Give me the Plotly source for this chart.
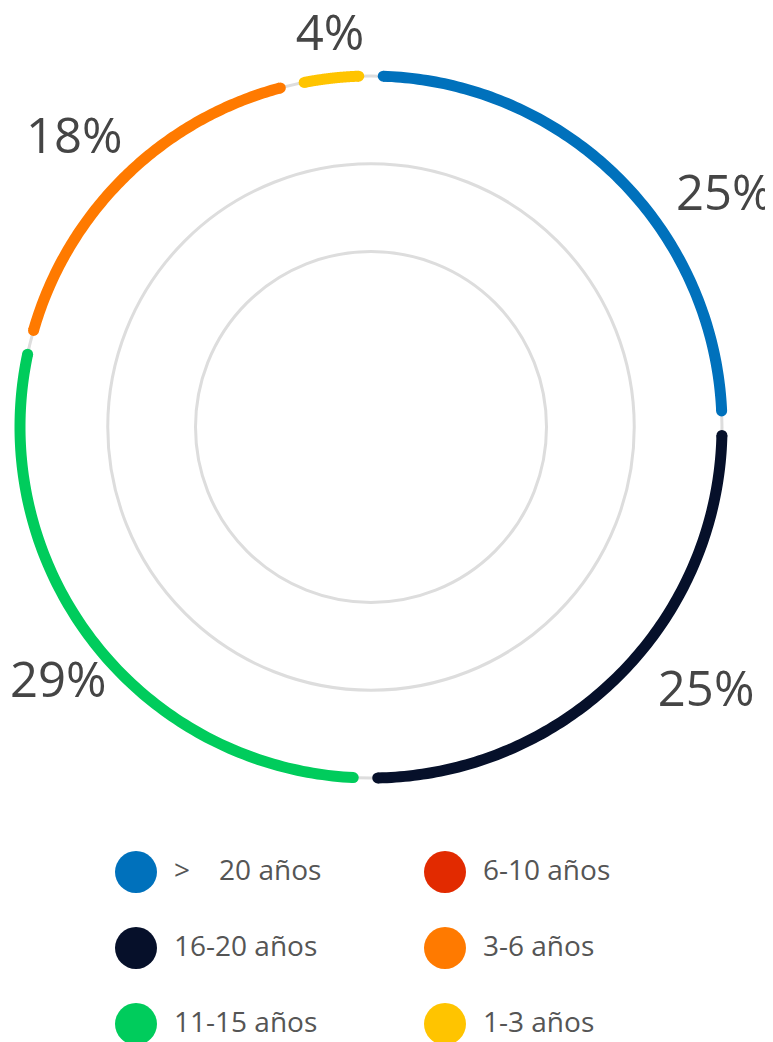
import numpy as np
import plotly.graph_objects as go

# ---- data ----
categories = [">\u00a0\u00a0\u00a0\u00a020 años", "16-20 años", "11-15 años", "6-10 años", "3-6 años", "1-3 años"]
shares = [24.8, 25.4, 28.6, 0.0, 17.5, 3.6]
labels = ["25%", "25%", "29%", "", "18%", "4%"]
colors = ["#0071BC", "#06102A", "#00CC5C", "#E22A00", "#FF7A00", "#FFC400"]

# label anchor positions (theta deg clockwise from top, radius relative to ring)
label_theta = [57, 128.5, 230.5, None, 314, 354]
label_r = [1.20, 1.22, 1.155, None, 1.175, 1.115]

W, H = 765, 1034
CX, CY, R = 363, 419, 351
RMAX = 1.02
LINE_W = 11
PAD_DEG = 2.0

fig = go.Figure()

total = sum(shares)
start = 0.0
for name, v, c in zip(categories, shares, colors):
    span = v / total * 360.0
    if span > 2 * PAD_DEG:
        th = np.linspace(start + PAD_DEG, start + span - PAD_DEG, 120)
        sizes = [0] * len(th)
        sizes[0] = LINE_W
        sizes[-1] = LINE_W
        fig.add_trace(go.Scatterpolar(
            r=[1.0] * len(th), theta=th, mode="lines+markers",
            line=dict(color=c, width=LINE_W),
            marker=dict(color=c, size=sizes, opacity=1, line=dict(width=0)),
            cliponaxis=False, showlegend=False, hoverinfo="skip", name=name,
        ))
    start += span

# percentage labels, placed on a pixel-scaled cartesian overlay
lx, ly, lt = [], [], []
for t, r, s in zip(label_theta, label_r, labels):
    if t is None or not s:
        continue
    a = np.deg2rad(t)
    lx.append(CX + r * R * np.sin(a))
    ly.append(CY - r * R * np.cos(a))
    lt.append(s)
fig.add_trace(go.Scatter(
    x=lx, y=ly, mode="text", text=lt, textposition="middle center",
    textfont=dict(family="Open Sans", size=49, color="#454545"),
    xaxis="x", yaxis="y", cliponaxis=False, showlegend=False, hoverinfo="skip",
))

# custom legend (2 columns x 3 rows)
cols = [i // 3 for i in range(len(categories))]
rows = [i % 3 for i in range(len(categories))]
LX0, LDX, LY0, LDY = 128, 309, 864, 76
mx = [LX0 + LDX * c for c in cols]
my = [LY0 + LDY * r for r in rows]
fig.add_trace(go.Scatter(
    x=mx, y=my, mode="markers",
    marker=dict(size=42, color=colors, opacity=1, line=dict(width=0)),
    xaxis="x", yaxis="y", cliponaxis=False, showlegend=False, hoverinfo="skip",
))
fig.add_trace(go.Scatter(
    x=[x + 38 for x in mx], y=[y + 1 for y in my], mode="text", text=categories,
    textposition="middle right",
    textfont=dict(family="Open Sans", size=28, color="#555555"),
    xaxis="x", yaxis="y", cliponaxis=False, showlegend=False, hoverinfo="skip",
))

RD = R * RMAX
fig.update_layout(
    width=W, height=H,
    margin=dict(l=0, r=0, t=0, b=0),
    paper_bgcolor="white", plot_bgcolor="rgba(0,0,0,0)",
    polar=dict(
        domain=dict(x=[(CX - RD) / W, (CX + RD) / W], y=[1 - (CY + RD) / H, 1 - (CY - RD) / H]),
        bgcolor="rgba(0,0,0,0)",
        angularaxis=dict(rotation=90, direction="clockwise", showgrid=False, showline=False,
                         showticklabels=False, ticks=""),
        radialaxis=dict(range=[0, RMAX], tickvals=[0.5, 0.75, 1.0], showticklabels=False,
                        ticks="", showline=False, gridcolor="#dddddd", gridwidth=3),
    ),
    xaxis=dict(domain=[0, 1], range=[0, W], visible=False, fixedrange=True),
    yaxis=dict(domain=[0, 1], range=[H, 0], visible=False, fixedrange=True),
)

fig.write_html("out.html")
